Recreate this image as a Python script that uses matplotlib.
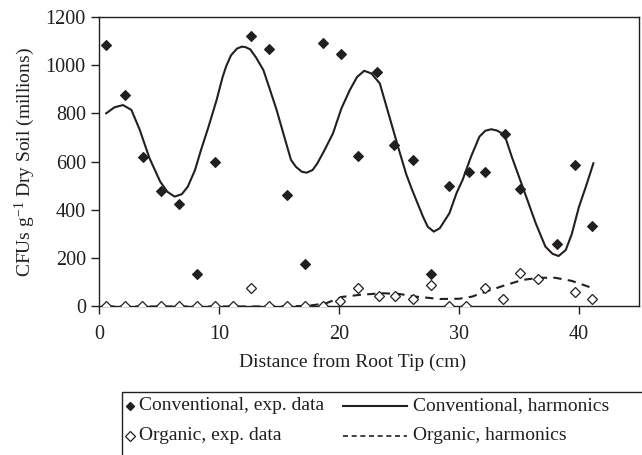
import matplotlib
matplotlib.use("Agg")
import matplotlib.pyplot as plt
from matplotlib.lines import Line2D
from matplotlib.patches import Rectangle

plt.rcParams['font.family'] = ['Liberation Serif', 'DejaVu Serif']
plt.rcParams['mathtext.fontset'] = 'custom'
plt.rcParams['mathtext.rm'] = 'Liberation Serif'
plt.rcParams['mathtext.it'] = 'Liberation Serif:italic'

INK = '#231f20'
FS = 14

# measured colony counts along the root (cm from tip, millions CFU per g dry soil)
conv_x = [0.6, 2.2, 3.7, 5.2, 6.7, 8.2, 9.7, 12.7, 14.2, 15.7, 17.2, 18.7, 20.2,
          21.6, 23.2, 24.6, 26.2, 27.7, 29.2, 30.8, 32.2, 33.8, 35.1, 38.2, 39.7, 41.1]
conv_y = [1083, 877, 619, 478, 424, 136, 600, 1120, 1065, 462, 177, 1090, 1047,
          625, 971, 667, 605, 136, 500, 556, 556, 714, 488, 257, 587, 335]

org_x = [0.6, 2.2, 3.6, 5.2, 6.7, 8.2, 9.7, 11.2, 12.7, 14.2, 15.7, 17.2, 18.7, 20.1,
         21.6, 23.3, 24.7, 26.2, 27.7, 29.2, 30.6, 32.2, 33.7, 35.1, 36.6, 39.7, 41.1]
org_y = [0, 0, 0, 0, 0, 0, 0, 0, 75, 0, 0, 0, 0, 24,
         78, 45, 45, 30, 89, 0, 0, 78, 32, 139, 114, 60, 32]

# harmonic fits, sampled along the root
conv_fit_x = [0.6, 1.3, 2.0, 2.7, 3.4, 4.2, 5.1, 5.7, 6.3, 6.9, 7.4, 8.0, 8.5, 9.1,
              9.8, 10.3, 10.6, 11.0, 11.5, 11.9, 12.2, 12.6, 13.1, 13.7, 14.2, 14.8, 15.4,
              16.0, 16.4, 16.9, 17.3, 17.8, 18.2, 18.8, 19.5, 20.2, 20.9, 21.5, 22.1,
              22.7, 23.4, 24.2, 25.0, 25.6, 26.1, 27.0, 27.4, 27.9, 28.4, 29.2, 29.8,
              30.3, 31.0, 31.7, 32.2, 32.7, 33.2, 33.8, 34.4, 35.3, 36.4, 37.2, 37.8,
              38.3, 38.9, 39.4, 40.0, 40.6, 41.2]
conv_fit_y = [800, 825, 834, 814, 731, 615, 517, 475, 455, 465, 496, 565, 648, 740,
              855, 950, 995, 1040, 1068, 1076, 1074, 1065, 1030, 979, 905, 814, 710,
              607, 579, 558, 554, 565, 593, 648, 717, 820, 896, 950, 976,
              965, 924, 786, 648, 548, 482, 372, 330, 310, 324, 386, 470,
              524, 620, 703, 728, 734, 728, 710, 620, 496, 344, 248, 218,
              209, 234, 300, 413, 500, 593]

org_fit_x = [0.6, 5.0, 10.0, 15.0, 17.3, 18.9, 20.3, 21.7, 23.6, 25.0, 26.4, 28.4,
             30.0, 31.1, 32.2, 33.9, 35.3, 36.7, 38.0, 39.4, 41.2]
org_fit_y = [0, 0, 0, 0, 2, 13, 40, 48, 55, 52, 41, 31,
             32, 41, 61, 89, 110, 119, 119, 106, 75]

fig = plt.figure(figsize=(6.42, 4.55), dpi=100)
ax = fig.add_axes([0.1542, 0.3264, 0.8411, 0.6369])

ax.plot(conv_fit_x, conv_fit_y, color=INK, lw=1.5, solid_joinstyle='round', zorder=2)
ax.plot(org_fit_x, org_fit_y, color=INK, lw=1.5, dashes=(4, 3), zorder=2)
ax.plot(conv_x, conv_y, 'D', ms=5, mfc=INK, mec=INK, mew=0.8, ls='none', zorder=3)
ax.plot(org_x, org_y, 'D', ms=5.5, mfc='white', mec=INK, mew=0.9, ls='none', zorder=3)

ax.set_xlim(0, 45)
ax.set_ylim(0, 1200)
ax.set_xticks([0, 10, 20, 30, 40])
ax.set_yticks(range(0, 1201, 200))
ax.tick_params(direction='out', length=5.5, width=1, color=INK, labelcolor=INK,
               labelsize=14.5, pad=4)
ax.tick_params(axis='x', pad=8)
for s in ax.spines.values():
    s.set_color(INK)
    s.set_linewidth(1.0)

ax.set_ylabel('CFUs g$^{-1}$ Dry Soil (millions)', fontsize=FS, color=INK, labelpad=6)
ax.set_xlabel('Distance from Root Tip (cm)', fontsize=FS, color=INK)
ax.xaxis.set_label_coords(0.47, -0.16)

# legend panel below the plot, drawn in pixel positions of the figure
W, H = 642, 455


def fx(px):
    return px / W


def fy(py):
    return 1 - py / H


fig.add_artist(Rectangle((fx(122), fy(470)), fx(530), fy(392) - fy(470),
                         transform=fig.transFigure, fill=False, ec=INK, lw=1.0,
                         clip_on=False))

rows = [406, 436]
fig.add_artist(Line2D([fx(130)], [fy(rows[0])], marker='D', ms=4.5, mfc=INK, mec=INK,
                      ls='none', transform=fig.transFigure))
fig.add_artist(Line2D([fx(130)], [fy(rows[1])], marker='D', ms=5, mfc='white', mec=INK,
                      mew=0.9, ls='none', transform=fig.transFigure))
fig.add_artist(Line2D([fx(343), fx(407)], [fy(rows[0])] * 2, color=INK, lw=1.5,
                      transform=fig.transFigure))
fig.add_artist(Line2D([fx(343), fx(407)], [fy(rows[1])] * 2, color=INK, lw=1.2,
                      dashes=(3, 2.2), transform=fig.transFigure))

labels = [('Conventional, exp. data', 139, rows[0]),
          ('Organic, exp. data', 139, rows[1]),
          ('Conventional, harmonics', 413, rows[0]),
          ('Organic, harmonics', 413, rows[1])]
for txt, px, py in labels:
    fig.text(fx(px), fy(py), txt, fontsize=FS, color=INK, ha='left', va='center')

fig.savefig('out.png', dpi=100)
